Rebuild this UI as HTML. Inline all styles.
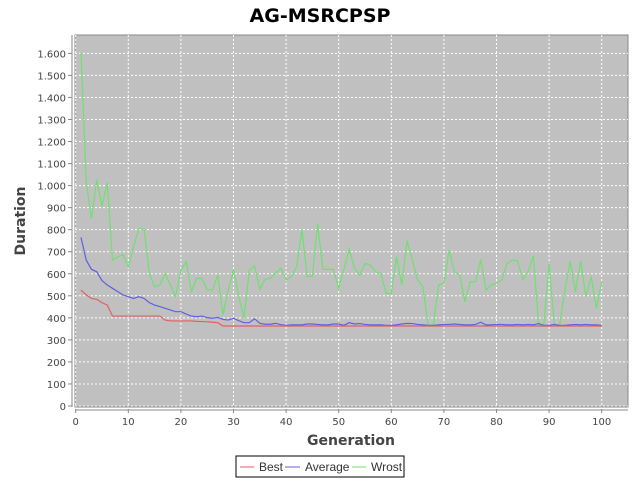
<!DOCTYPE html>
<html><head><meta charset="utf-8"><style>
body{margin:0;background:#fff;width:640px;height:480px;overflow:hidden;font-family:"DejaVu Sans","Liberation Sans",sans-serif}
</style></head><body>
<svg id="chart" width="640" height="480" xmlns="http://www.w3.org/2000/svg" font-family="DejaVu Sans, Liberation Sans, sans-serif">
<rect width="640" height="480" fill="#fff"/>
<text x="320" y="22" text-anchor="middle" font-size="19" font-weight="bold">AG-MSRCPSP</text>
<rect x="75" y="35" width="553" height="372" fill="#c0c0c0" stroke="#888"/>
<g id="grid"></g>
<g id="axes"></g>
<g id="series"></g>
<text transform="translate(25,221) rotate(-90)" text-anchor="middle" font-size="14" font-weight="bold" fill="#444">Duration</text>
<text x="351" y="445" text-anchor="middle" font-size="14" font-weight="bold" fill="#444">Generation</text>
<g font-family="Liberation Sans, sans-serif">
<rect x="236" y="456" width="168" height="21" fill="#fff" stroke="#000"/>
<line x1="240" y1="467" x2="254" y2="467" stroke="#e06060"/>
<text x="259" y="471" font-size="12" fill="#333">Best</text>
<line x1="285" y1="467" x2="300" y2="467" stroke="#6060e0"/>
<text x="305" y="471" font-size="12" fill="#333">Average</text>
<line x1="352" y1="467" x2="366" y2="467" stroke="#70e070"/>
<text x="371" y="471" font-size="12" fill="#333">Wrost</text>
</g>
</svg>
<script>
const xTicks=[0,10,20,30,40,50,60,70,80,90,100];
const yTicks=[0,100,200,300,400,500,600,700,800,900,1000,1100,1200,1300,1400,1500,1600];
const best=[526,504,488,484,469,458,408,408,408,408,408,408,408,408,408,408,390,386,386,386,386,386,384,383,382,380,378,363,363,363,363,363,363,363,363,363,363,363,363,363,363,363,363,363,363,363,363,363,363,363,363,363,363,363,363,363,363,363,363,363,363,363,363,363,363,363,363,363,363,363,363,363,363,363,363,363,363,363,363,363,363,363,363,363,363,363,363,363,363,363,363,363,363,363,363,363,363,363,363,363];
const average=[765,662,620,609,569,549,534,519,504,496,488,496,488,469,458,451,443,436,428,428,417,408,405,408,401,398,402,393,390,398,387,378,378,396,375,371,371,375,369,366,368,368,368,372,372,370,368,368,372,372,366,378,372,374,370,368,368,368,366,366,368,372,375,374,370,368,366,366,368,370,370,372,370,368,368,370,380,368,368,370,370,368,368,370,368,370,368,374,366,366,370,366,366,368,370,368,370,368,368,366];
const wrost=[1603,1018,851,1028,907,1013,662,677,688,632,723,806,803,602,541,549,602,549,496,617,655,519,579,579,526,526,594,413,526,620,496,398,617,637,529,575,579,602,625,572,587,632,800,587,590,825,620,620,620,534,620,712,625,594,647,640,609,602,511,511,678,549,750,662,572,541,367,367,549,557,708,609,594,473,564,564,665,526,549,557,572,647,662,659,572,609,681,367,367,647,367,367,526,658,519,658,496,587,443,564];
const gens=best.map((_,i)=>i+1);
const NS="http://www.w3.org/2000/svg";
const xs=g=>75.7+5.26*g, ys=v=>406-v*0.2204;
const grid=document.getElementById('grid'),axes=document.getElementById('axes'),ser=document.getElementById('series');
function mk(tag,attrs,parent){const e=document.createElementNS(NS,tag);for(const k in attrs)e.setAttribute(k,attrs[k]);parent.appendChild(e);return e;}
xTicks.forEach(t=>{
 const l=mk('line',{x1:xs(t),x2:xs(t),y1:35,y2:407,stroke:'#fff','stroke-dasharray':'2,2'},grid);
 
 
 mk('line',{x1:xs(t),x2:xs(t),y1:409,y2:413,stroke:'#888'},axes);
 const tx=mk('text',{x:xs(t),y:425,'text-anchor':'middle','font-size':'10',fill:'#444'},axes);
 tx.textContent=t;
 
 
});
yTicks.forEach(t=>{
 const l=mk('line',{x1:75,x2:628,y1:ys(t),y2:ys(t),stroke:'#fff','stroke-dasharray':'2,2'},grid);
 
 
 mk('line',{x1:68,x2:72,y1:ys(t),y2:ys(t),stroke:'#888'},axes);
 const tx=mk('text',{x:66,y:ys(t)+4,'text-anchor':'end','font-size':'10',fill:'#444'},axes);
 tx.textContent=t>=1000?(Math.floor(t/1000)+'.'+String(t%1000).padStart(3,'0')):t;
 
 
});
mk('line',{x1:72,x2:72,y1:35,y2:407,stroke:'#888'},axes);
mk('line',{x1:75,x2:628,y1:410,y2:410,stroke:'#888'},axes);
function line(data,color,name){
 const p=mk('polyline',{points:data.map((v,i)=>xs(gens[i])+','+ys(v)).join(' '),fill:'none',stroke:color,'stroke-width':'1.2'},ser);
 
 
}
line(wrost,'#70e070','series-wrost');
line(average,'#6060e0','series-average');
line(best,'#e06060','series-best');
</script>
</body></html>
